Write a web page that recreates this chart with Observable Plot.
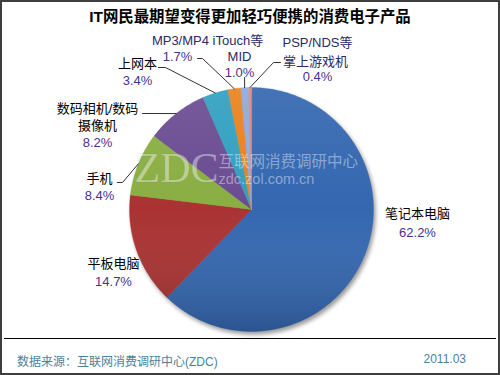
<!DOCTYPE html>
<html>
<head>
<meta charset="utf-8">
<script src="https://cdn.jsdelivr.net/npm/d3@7"></script>
<script src="https://cdn.jsdelivr.net/npm/@observablehq/plot@0.6"></script>
<style>
  html, body { margin: 0; padding: 0; background: #fff; }
  #wrap { position: relative; width: 500px; height: 375px; overflow: hidden;
          font-family: "Liberation Sans", "Noto Sans CJK SC", sans-serif; }
  #chart { position: absolute; left: 0; top: 0; }
  #frame { position: absolute; left: 0; top: 0; width: 500px; height: 375px; box-sizing: border-box;
           border: 2px solid #3e3e3e; pointer-events: none; }
  #title { position: absolute; left: 0; width: 500px; top: 4px; text-align: center;
           font-size: 15.4px; font-weight: bold; color: #000;
           font-family: "Liberation Sans", "Noto Sans CJK SC", sans-serif; }
  #sep { position: absolute; left: 4px; width: 492px; top: 338px; height: 1px; background: #000; }
  .foot { position: absolute; top: 352px; font-size: 12px; color: #4d7f9c; }
</style>
</head>
<body>
<div id="wrap">
  <div id="chart"></div>
  <div id="title">IT网民最期望变得更加轻巧便携的消费电子产品</div>
  <div id="sep"></div>
  <div class="foot" style="left:17px">数据来源：互联网消费调研中心(ZDC)</div>
  <div class="foot" style="right:34px">2011.03</div>
  <div id="frame"></div>
</div>
<script>
// ---- data ----
const categories = ["笔记本电脑", "平板电脑", "手机", "数码相机/数码摄像机", "上网本", "MP3/MP4 iTouch等", "MID", "PSP/NDS等掌上游戏机"];
const values = [62.2, 14.7, 8.4, 8.2, 3.4, 1.7, 1.0, 0.4];
const percentLabels = ["62.2%", "14.7%", "8.4%", "8.2%", "3.4%", "1.7%", "1.0%", "0.4%"];
const nameLines = [["笔记本电脑"], ["平板电脑"], ["手机"], ["数码相机/数码", "摄像机"], ["上网本"], ["MP3/MP4 iTouch等"], ["MID"], ["PSP/NDS等", "掌上游戏机"]];

// ---- style / layout ----
const colors = ["#3467b0", "#aa3232", "#8aae42", "#6a4c92", "#31a0c0", "#e8821f", "#8eaadb", "#d98a8a"];
const cx = 251, cy = 209, R = 122;
// label anchor positions (pixel layout): [name line positions..., percent position]
const labelLayout = [
  {names: [[417, 213]], pct: [417, 232]},
  {names: [[113, 263]], pct: [113, 281]},
  {names: [[99, 178]], pct: [99, 195]},
  {names: [[97, 108], [97, 125]], pct: [97, 142]},
  {names: [[137, 63]], pct: [137, 80]},
  {names: [[207, 40]], pct: [177, 56]},
  {names: [[239, 56]], pct: [239, 72]},
  {names: [[317, 42], [315, 61]], pct: [317, 76]}
];
// leader line outer points (pixel layout), inner end computed from slice mid-angle
const leaderLayout = [null, null, [[117, 182], [122, 182]], [[142, 113]], [[158, 67], [165, 67]], [[197, 58], [202, 58]], [[null, 77]], [[280, 62], [273, 62]]];
const darkName = new Set([5, 6, 7]);

// ---- geometry from data ----
const arcs = d3.pie().sort(null).value(d => d.v).startAngle(0).endAngle(2 * Math.PI)(
  categories.map((c, i) => ({c, v: values[i], i}))
);
const pt = (a, r) => ({x: cx + r * Math.sin(a), y: cy - r * Math.cos(a)});
const slicePts = [];
for (const a of arcs) {
  slicePts.push({cat: a.data.c, ...pt(0, 0)});
  const n = Math.max(2, Math.ceil((a.endAngle - a.startAngle) / (Math.PI / 180)));
  for (let k = 0; k <= n; k++) {
    const ang = a.startAngle + (a.endAngle - a.startAngle) * k / n;
    slicePts.push({cat: a.data.c, ...pt(ang, R)});
  }
}
const circlePts = d3.range(0, 361, 2).map(d => pt(d * Math.PI / 180, R));

const leaderPts = [];
arcs.forEach((a, i) => {
  const lay = leaderLayout[i];
  if (!lay) return;
  const mid = (a.startAngle + a.endAngle) / 2;
  const edge = pt(mid, R);
  lay.forEach(([x, y]) => leaderPts.push({id: i, x: x == null ? edge.x : x, y}));
  leaderPts.push({id: i, ...edge});
});

const texts = [];
arcs.forEach((a, i) => {
  const lay = labelLayout[i];
  nameLines[i].forEach((t, j) => texts.push({t, x: lay.names[j][0], y: lay.names[j][1], color: darkName.has(i) ? "#2a2a66" : "#000"}));
  texts.push({t: percentLabels[i], x: lay.pct[0], y: lay.pct[1], color: "#4a2f8f"});
});

const chart = Plot.plot({
  width: 500, height: 375,
  margin: 0,
  x: {domain: [0, 500], range: [0, 500], axis: null},
  y: {domain: [0, 375], range: [0, 375], axis: null},
  color: {domain: categories, range: colors},
  style: {fontFamily: '"Liberation Sans", "Noto Sans CJK SC", sans-serif', background: "transparent"},
  marks: [
    Plot.line(slicePts, {x: "x", y: "y", z: "cat", fill: "cat", stroke: "cat", strokeWidth: 0.3, curve: "linear-closed"}),
    Plot.line(circlePts, {x: "x", y: "y", fill: "url(#pieShade)", stroke: "none", curve: "linear-closed"}),
    Plot.text(["ZDC"], {x: () => 176, y: () => 168, text: d => d, fontSize: 42, fontFamily: '"Liberation Serif", "DejaVu Serif", serif', fill: "white", fillOpacity: 0.42, stroke: "#555", strokeOpacity: 0.12, strokeWidth: 1}),
    Plot.text(["互联网消费调研中心"], {x: () => 218, y: () => 162, text: d => d, textAnchor: "start", fontSize: 15.5, fill: "white", fillOpacity: 0.42}),
    Plot.text(["zdc.zol.com.cn"], {x: () => 218, y: () => 179, text: d => d, textAnchor: "start", fontSize: 14.5, fill: "white", fillOpacity: 0.42}),
    Plot.line(leaderPts, {x: "x", y: "y", z: "id", stroke: "#333", strokeWidth: 1}),
    Plot.text(texts, {x: "x", y: "y", text: "t", fill: "color", fontSize: 13, lineAnchor: "middle"})
  ]
});

const svg = d3.select(chart);
const defs = svg.insert("defs", ":first-child");
const g = defs.append("linearGradient").attr("id", "pieShade").attr("x1", 0).attr("y1", 0).attr("x2", 0).attr("y2", 1);
g.append("stop").attr("offset", "0%").attr("stop-color", "#fff").attr("stop-opacity", 0.08);
g.append("stop").attr("offset", "50%").attr("stop-color", "#fff").attr("stop-opacity", 0);
g.append("stop").attr("offset", "100%").attr("stop-color", "#000").attr("stop-opacity", 0.18);
const pieGroup = chart.querySelector('g[aria-label="line"]');
if (pieGroup) pieGroup.style.filter = "drop-shadow(2px 3px 2px rgba(0,0,0,0.4))";

document.getElementById("chart").appendChild(chart);
</script>
</body>
</html>
